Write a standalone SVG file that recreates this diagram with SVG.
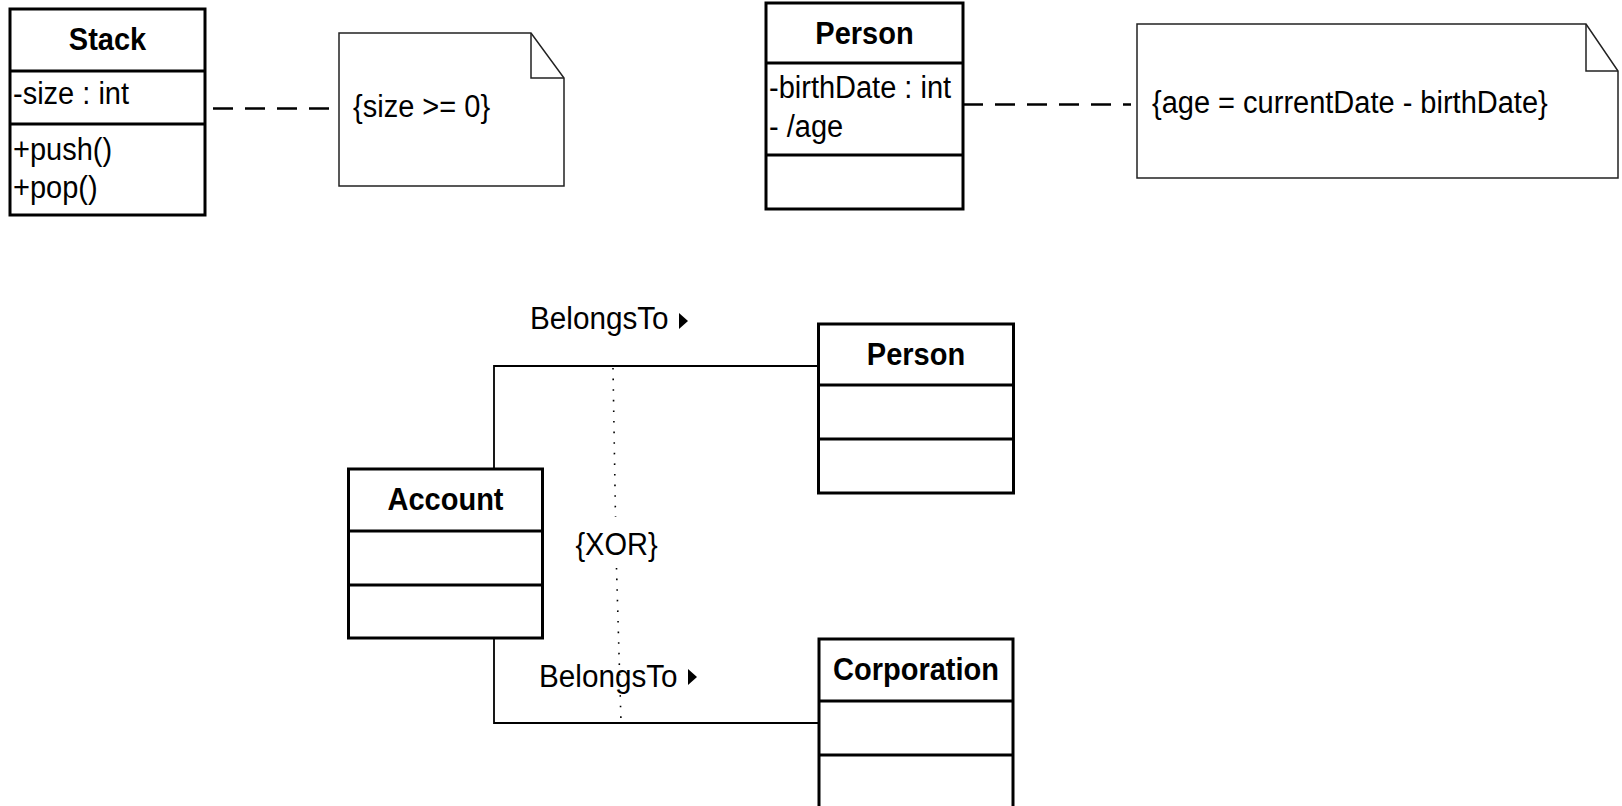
<svg xmlns="http://www.w3.org/2000/svg" width="1622" height="806" viewBox="0 0 1622 806">
<style>
.box{fill:#fff;stroke:#000;stroke-width:3}
.div{stroke:#000;stroke-width:3}
.note{fill:#fff;stroke:#222;stroke-width:1.5}
.fold{fill:none;stroke:#222;stroke-width:1.5}
.t{font-family:"Liberation Sans",Arial,sans-serif;font-size:31px;fill:#000}
.b{font-weight:bold;text-anchor:middle}
.dash{fill:none;stroke:#000;stroke-width:2.5;stroke-dasharray:20 12}
.assoc{fill:none;stroke:#000;stroke-width:1.8}
.dot{fill:none;stroke:#000;stroke-width:1.6;stroke-dasharray:1.6 9}
</style>
<rect width="1622" height="806" fill="#fff"/>
<g id="connectors">
<line class="dash" x1="213" y1="108.5" x2="335" y2="108.5"/>
<line class="dash" x1="963" y1="104.5" x2="1131" y2="104.5"/>
<polyline class="assoc" points="494,469 494,366 819,366"/>
<polyline class="assoc" points="494,638 494,723 819,723"/>
<line class="dot" x1="613" y1="368" x2="615.5" y2="517"/>
<line class="dot" x1="616.5" y1="568" x2="621" y2="722"/>
<text class="t" x="530" y="329" textLength="138.6" lengthAdjust="spacingAndGlyphs">BelongsTo</text>
<polygon points="679,313 688,321 679,329" fill="#000"/>
<text class="t" x="539" y="687" textLength="138.6" lengthAdjust="spacingAndGlyphs">BelongsTo</text>
<polygon points="688,669 697,677 688,685" fill="#000"/>
<text class="t" x="616.5" y="555" text-anchor="middle" textLength="82.2" lengthAdjust="spacingAndGlyphs">{XOR}</text>
</g>
<g id="stack">
<rect class="box" x="10" y="9" width="195" height="206"/>
<line class="div" x1="10" y1="71" x2="205" y2="71"/>
<line class="div" x1="10" y1="124" x2="205" y2="124"/>
<text class="t b" x="107.5" y="50" textLength="77.4" lengthAdjust="spacingAndGlyphs">Stack</text>
<text class="t" x="13" y="104" textLength="116" lengthAdjust="spacingAndGlyphs">-size : int</text>
<text class="t" x="13" y="160" textLength="99.1" lengthAdjust="spacingAndGlyphs">+push()</text>
<text class="t" x="13" y="198" textLength="84.6" lengthAdjust="spacingAndGlyphs">+pop()</text>
</g>
<g id="note-stack">
<path class="note" d="M339,33 H531 L564,78 V186 H339 Z"/>
<path class="fold" d="M531,33 V78 H564"/>
<text class="t" x="353" y="117" textLength="137.1" lengthAdjust="spacingAndGlyphs">{size &gt;= 0}</text>
</g>
<g id="person-top">
<rect class="box" x="766" y="3" width="197" height="206"/>
<line class="div" x1="766" y1="63" x2="963" y2="63"/>
<line class="div" x1="766" y1="155" x2="963" y2="155"/>
<text class="t b" x="864.5" y="44" textLength="98.3" lengthAdjust="spacingAndGlyphs">Person</text>
<text class="t" x="769" y="98" textLength="182.1" lengthAdjust="spacingAndGlyphs">-birthDate : int</text>
<text class="t" x="769" y="137" textLength="74.2" lengthAdjust="spacingAndGlyphs">- /age</text>
</g>
<g id="note-person">
<path class="note" d="M1137,24 H1586 L1618,71 V178 H1137 Z"/>
<path class="fold" d="M1586,24 V71 H1618"/>
<text class="t" x="1152" y="113" textLength="395.7" lengthAdjust="spacingAndGlyphs">{age = currentDate - birthDate}</text>
</g>
<g id="account">
<rect class="box" x="348.5" y="469" width="194" height="169"/>
<line class="div" x1="348.5" y1="531" x2="542.5" y2="531"/>
<line class="div" x1="348.5" y1="585" x2="542.5" y2="585"/>
<text class="t b" x="445.5" y="510" textLength="116" lengthAdjust="spacingAndGlyphs">Account</text>
</g>
<g id="person">
<rect class="box" x="818.5" y="324" width="195" height="169"/>
<line class="div" x1="818.5" y1="385" x2="1013.5" y2="385"/>
<line class="div" x1="818.5" y1="439" x2="1013.5" y2="439"/>
<text class="t b" x="916" y="365" textLength="98.3" lengthAdjust="spacingAndGlyphs">Person</text>
</g>
<g id="corporation">
<rect class="box" x="819" y="639" width="194" height="170"/>
<line class="div" x1="819" y1="701" x2="1013" y2="701"/>
<line class="div" x1="819" y1="755" x2="1013" y2="755"/>
<text class="t b" x="916" y="680" textLength="165.9" lengthAdjust="spacingAndGlyphs">Corporation</text>
</g>
</svg>
